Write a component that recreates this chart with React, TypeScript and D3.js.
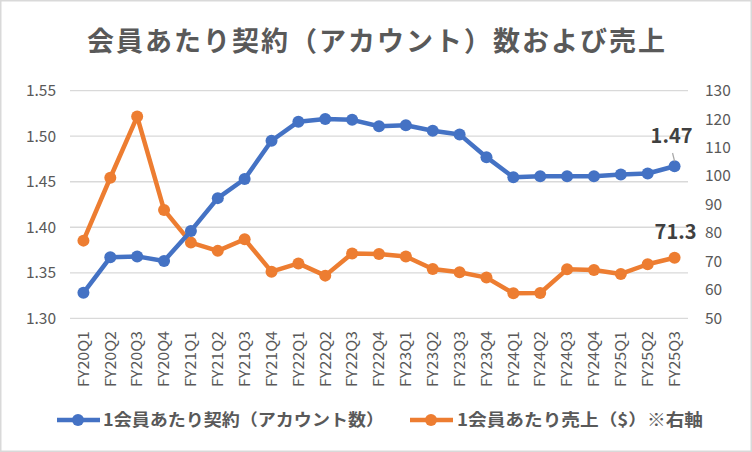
import { scaleBand, scaleLinear, line, range } from 'd3';

const categories = [
  'FY20Q1', 'FY20Q2', 'FY20Q3', 'FY20Q4',
  'FY21Q1', 'FY21Q2', 'FY21Q3', 'FY21Q4',
  'FY22Q1', 'FY22Q2', 'FY22Q3', 'FY22Q4',
  'FY23Q1', 'FY23Q2', 'FY23Q3', 'FY23Q4',
  'FY24Q1', 'FY24Q2', 'FY24Q3', 'FY24Q4',
  'FY25Q1', 'FY25Q2', 'FY25Q3',
];

// 1会員あたり契約（アカウント数） - left axis
const accountsPerMember = [
  1.328, 1.367, 1.368, 1.363,
  1.396, 1.432, 1.453, 1.495,
  1.516, 1.519, 1.518, 1.511,
  1.512, 1.506, 1.502, 1.477,
  1.455, 1.456, 1.456, 1.456,
  1.458, 1.459, 1.467,
];

// 1会員あたり売上（$） - right axis
const salesPerMember = [
  77.3, 99.4, 120.9, 88.1,
  76.6, 73.7, 77.8, 66.4,
  69.3, 65.0, 72.8, 72.6,
  71.7, 67.3, 66.2, 64.3,
  58.8, 58.9, 67.2, 67.0,
  65.6, 69.0, 71.3,
];

const leftTicks = [1.3, 1.35, 1.4, 1.45, 1.5, 1.55];
const rightTicks = [50, 60, 70, 80, 90, 100, 110, 120, 130];

const title = '会員あたり契約（アカウント）数および売上';
const legend1 = '1会員あたり契約（アカウント数）';
const legend2 = '1会員あたり売上（$）※右軸';

const BLUE = '#4472C4';
const ORANGE = '#ED7D31';
const TEXT = '#595959';
const GRID = '#D9D9D9';
const FONT = '"Noto Sans CJK JP", "Noto Sans", sans-serif';

const W = 752;
const H = 452;
const plot = { left: 70, right: 688, top: 90.7, bottom: 318.3 };

export default function App() {
  const x = scaleBand<string>().domain(categories).range([plot.left, plot.right]).padding(0);
  const cx = (i: number) => (x(categories[i]) as number) + x.bandwidth() / 2;
  const yL = scaleLinear().domain([1.3, 1.55]).range([plot.bottom, plot.top]);
  const yR = scaleLinear().domain([50, 130]).range([plot.bottom, plot.top]);

  const blueLine = line<number>().x((_, i) => cx(i)).y((d) => yL(d));
  const orangeLine = line<number>().x((_, i) => cx(i)).y((d) => yR(d));

  const last = categories.length - 1;
  const idx = range(categories.length);

  return (
    <div style={{ position: 'absolute', left: 0, top: 0 }}>
      <svg width={W} height={H} style={{ display: 'block', fontFamily: FONT }}>
        <rect x={0.75} y={0.75} width={W - 1.5} height={H - 1.5} fill="#fff" stroke={GRID} strokeWidth={1.5} />
        <text
          x={376}
          y={51}
          textAnchor="middle"
          fontSize={27}
          fontWeight={700}
          fill={TEXT}
          textLength={578}
          lengthAdjust="spacing"
        >
          {title}
        </text>

        {leftTicks.map((t) => (
          <line key={`g${t}`} x1={plot.left} x2={plot.right} y1={yL(t)} y2={yL(t)} stroke={GRID} strokeWidth={1.3} />
        ))}
        {leftTicks.map((t) => (
          <text key={`l${t}`} x={56} y={yL(t)} dy="0.35em" textAnchor="end" fontSize={15.5} fill={TEXT}>
            {t.toFixed(2)}
          </text>
        ))}
        {rightTicks.map((t) => (
          <text key={`r${t}`} x={705} y={yR(t)} dy="0.35em" textAnchor="start" fontSize={15.5} fill={TEXT}>
            {t}
          </text>
        ))}
        {categories.map((c, i) => (
          <text
            key={c}
            transform={`translate(${cx(i)},331) rotate(-90)`}
            textAnchor="end"
            dy="0.35em"
            fontSize={15}
            fill={TEXT}
            textLength={56}
            lengthAdjust="spacingAndGlyphs"
          >
            {c}
          </text>
        ))}

        <path d={orangeLine(salesPerMember) as string} fill="none" stroke={ORANGE} strokeWidth={4.5} strokeLinejoin="round" />
        {idx.map((i) => (
          <circle key={`o${i}`} cx={cx(i)} cy={yR(salesPerMember[i])} r={6} fill={ORANGE} />
        ))}
        <path d={blueLine(accountsPerMember) as string} fill="none" stroke={BLUE} strokeWidth={4.5} strokeLinejoin="round" />
        {idx.map((i) => (
          <circle key={`b${i}`} cx={cx(i)} cy={yL(accountsPerMember[i])} r={6} fill={BLUE} />
        ))}

        <line x1={cx(last) - 2} y1={153} x2={cx(last)} y2={yL(accountsPerMember[last]) - 5} stroke="#A6A6A6" strokeWidth={1.2} />
        <text x={cx(last) - 3} y={143} textAnchor="middle" fontSize={20} fontWeight={700} fill="#404040">
          {accountsPerMember[last].toFixed(2)}
        </text>
        <text x={cx(last) + 1} y={239} textAnchor="middle" fontSize={20} fontWeight={700} fill="#404040">
          {salesPerMember[last].toFixed(1)}
        </text>

        <g>
          <line x1={57} x2={100} y1={420} y2={420} stroke={BLUE} strokeWidth={4.5} />
          <circle cx={78} cy={420} r={6} fill={BLUE} />
          <text x={103} y={420} dy="0.36em" fontSize={16.5} fontWeight={700} fill={TEXT} textLength={281} lengthAdjust="spacingAndGlyphs">
            {legend1}
          </text>
          <line x1={410} x2={453} y1={420} y2={420} stroke={ORANGE} strokeWidth={4.5} />
          <circle cx={431} cy={420} r={6} fill={ORANGE} />
          <text x={457} y={420} dy="0.36em" fontSize={16.5} fontWeight={700} fill={TEXT} textLength={246} lengthAdjust="spacingAndGlyphs">
            {legend2}
          </text>
        </g>
      </svg>
    </div>
  );
}
